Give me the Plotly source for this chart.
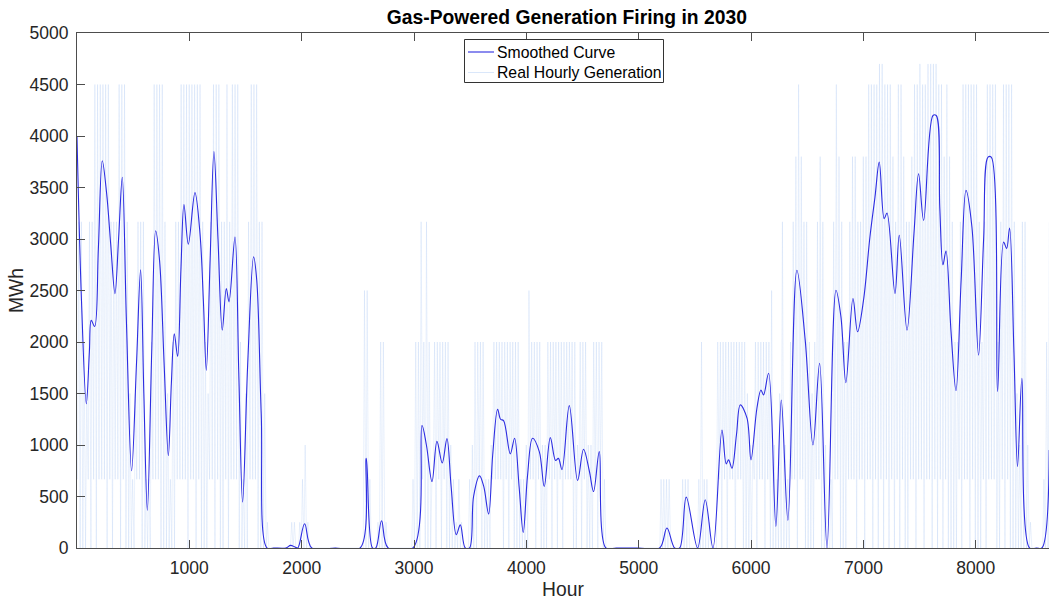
import plotly.graph_objects as go

# Smoothed generation curve: (hour, MWh) control points
smooth_hours = [
    0, 40, 83, 110, 127, 157, 190, 225, 264, 300, 338, 370, 403, 440, 486, 530, 566, 595, 626, 665,
    700, 735, 775, 813, 840, 866, 896, 925, 952, 991, 1050, 1095, 1125, 1151, 1185, 1219, 1255, 1293,
    1329, 1353, 1406, 1440, 1474, 1520, 1572, 1600, 1640, 1691, 1750, 1860, 1900, 1940, 1965, 2026,
    2090, 2300, 2520, 2575, 2630, 2660, 2711, 2770, 2990, 3071, 3110, 3160, 3204, 3251, 3293, 3330,
    3376, 3412, 3456, 3494, 3530, 3583, 3620, 3664, 3700, 3744, 3770, 3797, 3857, 3895, 3935, 3972,
    4010, 4055, 4115, 4159, 4213, 4260, 4285, 4317, 4382, 4456, 4509, 4560, 4598, 4649, 4708, 4800,
    5000, 5186, 5251, 5320, 5364, 5423, 5524, 5592, 5661, 5741, 5779, 5800, 5830, 5870, 5904, 5964,
    5999, 6052, 6088, 6111, 6156, 6221, 6269, 6328, 6408, 6482, 6551, 6610, 6676, 6756, 6800, 6844,
    6907, 6948, 7001, 7058, 7103, 7141, 7185, 7210, 7281, 7319, 7388, 7450, 7491, 7536, 7619, 7648,
    7680, 7708, 7735, 7780, 7824, 7870, 7913, 7966, 8025, 8070, 8109, 8138, 8194, 8248, 8275, 8301,
    8340, 8372, 8411, 8479, 8540, 8589, 8654,
]
smooth_mwh = [
    3990, 2400, 1400, 1900, 2210, 2150, 2900, 3760, 3440, 2950, 2470, 3000, 3600, 2200, 750, 1800, 2700, 1500, 365, 1900,
    3080, 2790, 1800, 895, 1600, 2080, 1860, 2700, 3335, 2950, 3450, 3050, 2400, 1725, 2800, 3850, 3000, 2115,
    2520, 2390, 3020, 1700, 446, 1800, 2826, 2600, 1300, 0, 0, 0, 25, 10, 0, 235,
    0, 0, 0, 870, 0, 0, 265, 0, 0, 1190, 1000, 645, 1035, 825, 1062, 600,
    130, 225, 0, 0, 500, 700, 600, 330, 900, 1347, 1250, 1236, 914, 1066, 600, 151,
    700, 1066, 936, 597, 1072, 850, 870, 760, 1382, 655, 959, 750, 548, 936, 0, 0,
    0, 0, 194, 0, 0, 494, 0, 468, 0, 1146, 817, 856, 775, 1100, 1389, 1260,
    856, 1357, 1534, 1486, 1696, 210, 1437, 268, 2697, 2018, 1001, 1793, 0, 2503, 2244, 1605,
    2422, 2099, 2406, 3019, 3407, 3746, 3198, 3252, 2471, 3036, 2115, 3052, 3634, 3181, 4199, 4199,
    3300, 2750, 2884, 2100, 1527, 2600, 3472, 3116, 1873, 3000, 3795, 3795, 1517, 2971, 2907, 3107,
    1900, 791, 1647, 0, 0, 0, 952,
]

# Hourly generation levels (MWh) and the daily high / low level codes, one character per day
level_mwh = {"0": 0, "1": 250, "2": 667, "3": 1000, "4": 1500, "5": 2000,
             "6": 2500, "7": 3167, "8": 3800, "9": 4500, "A": 4700}
daily_high = (
    "7754779999 9977799974 2477722599 9974257799 9999997547 9997797999 5247999774 "
    "1000000001 1012310000 0000000000 0000006620 0155100000 0000255757 5255555532 "
    "1210023555 5223555555 5555223655 5533555555 5555535553 3555520000 0000000000 "
    "0000002222 0000222000 2522100555 5555555543 3555555632 4732578987 7545787302 "
    "7987557887 7889999AA9 9987998778 99A99AAAA9 9898755799 9999757999 9579999743 "
    "7731000025 7"
).replace(" ", "")
daily_low = (
    "2000202022 2020220200 0022000022 2000000222 2022020002 2020020222 0000222000 "
    "0000000000 0000000000 0000000000 0000000000 0000000000 0000000020 0020202000 "
    "0000000002 0000222202 0200000022 0200020202 0222002020 0020200000 0000000000 "
    "0000000000 0000000000 0000000020 2022022000 0202202000 0000022022 0000220000 "
    "0220002220 2202202020 2020202002 2022022020 2020000202 2020002022 2002020000 "
    "0000000000 0"
).replace(" ", "")

hourly_x, hourly_y = [], []
for day, (lo, hi) in enumerate(zip(daily_low, daily_high)):
    hourly_x += [24 * day + 4, 24 * day + 15]
    hourly_y += [level_mwh[lo], level_mwh[hi]]

font = "Liberation Sans, Arial, Helvetica, sans-serif"
axis_color = "#4d4d4d"
smooth_color = "rgb(45,45,225)"
hourly_color = "rgba(150,185,240,0.2)"

fig = go.Figure()
fig.add_trace(go.Scatter(
    x=hourly_x, y=hourly_y, mode="lines", name="Real Hourly Generation",
    line=dict(color=hourly_color, width=1), showlegend=False,
))
fig.add_trace(go.Scatter(
    x=smooth_hours, y=smooth_mwh, mode="lines", name="Smoothed Curve",
    line=dict(color=smooth_color, width=1.1, shape="spline", smoothing=1.0),
    showlegend=False,
))

# Legend box drawn in pixel-aligned paper coordinates (plot area: x 77..1049, y 33..548)
def px_x(px):
    return (px - 77) / 972


def px_y(py):
    return 1 - (py - 33) / 515


legend_font = dict(family=font, size=15.75, color="black")
shapes = [
    dict(type="rect", xref="paper", yref="paper",
         x0=px_x(464.5), x1=px_x(663.5), y0=px_y(82.5), y1=px_y(39.5),
         fillcolor="white", line=dict(color="#333333", width=1), layer="above"),
    dict(type="line", xref="paper", yref="paper",
         x0=px_x(468), x1=px_x(494), y0=px_y(52), y1=px_y(52),
         line=dict(color=smooth_color, width=1.1), layer="above"),
    dict(type="line", xref="paper", yref="paper",
         x0=px_x(468), x1=px_x(494), y0=px_y(72.5), y1=px_y(72.5),
         line=dict(color="rgba(150,185,240,0.35)", width=1), layer="above"),
]
annotations = [
    dict(text="Smoothed Curve", xref="paper", yref="paper", x=px_x(495), y=px_y(52),
         xanchor="left", yanchor="middle", showarrow=False, font=legend_font),
    dict(text="Real Hourly Generation", xref="paper", yref="paper", x=px_x(495), y=px_y(72.5),
         xanchor="left", yanchor="middle", showarrow=False, font=legend_font),
]

fig.update_layout(
    width=1049, height=602,
    margin=dict(l=77, r=0, t=33, b=54),
    paper_bgcolor="white", plot_bgcolor="white",
    font=dict(family=font, size=17.5, color="#262626"),
    title=dict(text="<b>Gas-Powered Generation Firing in 2030</b>",
               font=dict(family=font, size=19.3, color="black"),
               x=0.504, xref="paper", xanchor="center",
               y=1 - 17 / 602, yref="container", yanchor="middle"),
    showlegend=False,
    shapes=shapes,
    annotations=annotations,
)
fig.update_xaxes(
    range=[0, 8652], tickvals=[1000, 2000, 3000, 4000, 5000, 6000, 7000, 8000],
    ticks="inside", ticklen=8, tickcolor=axis_color, ticklabelstandoff=4,
    showline=True, linecolor=axis_color, linewidth=1, mirror="ticks",
    showgrid=False, zeroline=False,
    title=dict(text="Hour", font=dict(family=font, size=19.3, color="#262626"), standoff=5),
)
fig.update_yaxes(
    range=[0, 5000], tickvals=list(range(0, 5001, 500)),
    ticks="inside", ticklen=8, tickcolor=axis_color, ticklabelstandoff=4,
    showline=True, linecolor=axis_color, linewidth=1,
    showgrid=False, zeroline=False,
    title=dict(text="MWh", font=dict(family=font, size=19.3, color="#262626"), standoff=0),
)

fig.write_html("out.html")
